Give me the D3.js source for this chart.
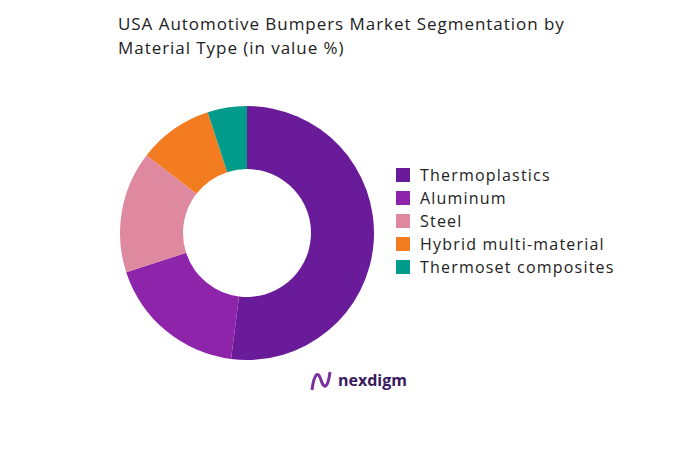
<!DOCTYPE html>
<html><head><meta charset="utf-8">
<script src="https://cdn.jsdelivr.net/npm/d3@7"></script>
<style>body{margin:0;background:#fff;font-family:"Open Sans",sans-serif;}</style>
</head><body>
<svg id="chart" width="674" height="454"></svg>
<script>
var categories = ["Thermoplastics", "Aluminum", "Steel", "Hybrid multi-material", "Thermoset composites"];
var values = [52, 18, 15.5, 9.5, 5];
var colors = ["#6a1b9a", "#8e24aa", "#df89a0", "#f47c20", "#009b8b"];

var svg = d3.select("#chart");

svg.append("text").attr("x", 118).attr("y", 30).attr("font-size", 17).attr("fill", "#222")
  .attr("letter-spacing", 0.95).text("USA Automotive Bumpers Market Segmentation by");
svg.append("text").attr("x", 118).attr("y", 54).attr("font-size", 17).attr("fill", "#222")
  .attr("letter-spacing", 0.95).text("Material Type (in value %)");

var pie = d3.pie().sort(null).value(function(d) { return d; });
var arc = d3.arc().innerRadius(64).outerRadius(127);
var color = d3.scaleOrdinal().domain(categories).range(colors);

var g = svg.append("g").attr("transform", "translate(247,233)");
g.selectAll("path").data(pie(values)).enter().append("path")
  .attr("d", arc)
  .attr("fill", function(d, i) { return color(categories[i]); });

var legend = svg.append("g").attr("transform", "translate(396,168)");
var item = legend.selectAll("g").data(categories).enter().append("g")
  .attr("transform", function(d, i) { return "translate(0," + (i * 23) + ")"; });
item.append("rect").attr("width", 14).attr("height", 14).attr("fill", function(d) { return color(d); });
item.append("text").attr("x", 24).attr("y", 13).attr("font-size", 16).attr("fill", "#222")
  .attr("letter-spacing", 1.2).text(function(d) { return d; });

// logo
var logo = svg.append("g").attr("transform", "translate(310,368)");
logo.append("path").attr("d", "M2,22 C4,6 8,2 11,12 C14,22 18,20 20,4")
  .attr("fill", "none").attr("stroke", "#7b2fa0").attr("stroke-width", 3);
logo.append("text").attr("x", 28).attr("y", 18).attr("font-size", 16).attr("font-weight", "bold")
  .attr("fill", "#3a1a5e").text("nexdigm");
</script>
</body></html>
